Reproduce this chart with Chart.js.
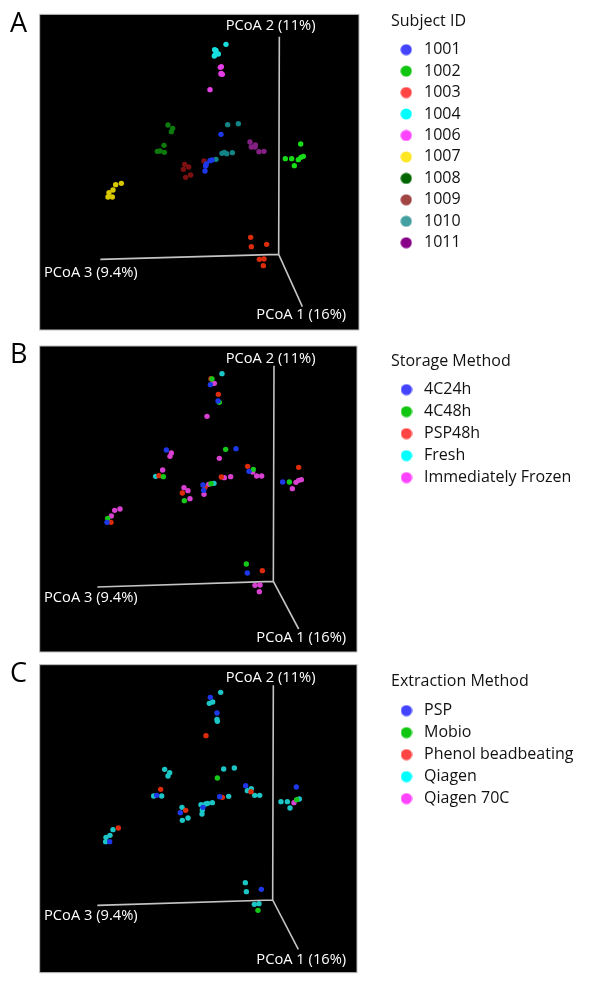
<!DOCTYPE html>
<html><head><meta charset="utf-8">
<script src="https://cdn.jsdelivr.net/npm/chart.js@4"></script>
<style>html,body{margin:0;padding:0;background:#fff}canvas{display:block}</style>
</head><body>
<canvas id="a" width="600" height="336"></canvas>
<canvas id="b" width="600" height="320"></canvas>
<canvas id="c" width="600" height="336"></canvas>
<script>
// Values (in units of the plot's own hidden scale)
const subjectNames=['1001','1002','1003','1004','1006','1007','1008','1009','1010','1011'];
const s1001=[[543,373],[510,452],[516,450],[499,462],[497,468],[495,483]];
const s1002=[[782,402],[736,446],[755,446],[790,439],[783,442],[775,449],[763,467]];
const s1003=[[632,682],[634,710],[680,703],[658,748],[672,747],[670,767]];
const s1004=[[558,103],[524,119],[528,121],[535,132],[526,133],[523,138]];
const s1006=[[544,170],[541,172],[544,190],[547,193],[543,192],[510,239]];
const s1007=[[244,520],[227,524],[219,540],[207,548],[204,561],[217,561]];
const s1008=[[384,345],[398,355],[394,365],[372,406],[352,424],[360,423],[373,427]];
const s1009=[[492,453],[434,463],[446,471],[430,478],[452,495],[437,502]];
const s1010=[[563,344],[595,341],[546,430],[553,427],[560,431],[577,428],[528,448]];
const s1011=[[630,396],[646,405],[634,411],[645,411],[657,425],[672,424]];
const subjectAxes=[[718,80],[716,733],[181,748],[716,733],[787,890]];

const storageNames=['4C24h','4C48h','PSP48h','Fresh','Immediately Frozen'];
const st4C24=[[511,119],[534,168],[379,315],[588,311],[627,379],[728,411],[489,420],[491,436],[201,532],[622,684]];
const st4C48=[[516,102],[538,172],[557,313],[370,395],[640,373],[748,411],[513,416],[433,467],[203,520],[619,657]];
const stPSP=[[513,101],[535,148],[357,392],[623,364],[776,367],[544,396],[495,427],[427,444],[213,532],[667,677]];
const stFresh=[[546,86],[347,394],[522,415]];
const stFrozen=[[518,115],[523,115],[501,214],[394,324],[390,334],[538,340],[368,375],[638,381],[650,393],[665,393],[572,395],[553,398],[784,404],[776,406],[768,412],[757,431],[506,418],[432,428],[444,437],[492,448],[450,461],[240,492],[224,496],[214,513],[645,721],[660,720],[658,740]];
const storageAxes=[[702,62],[700,709],[172,726],[700,709],[776,852]];

const extractionNames=['PSP','Mobio','Phenol beadbeating','Qiagen','Qiagen 70C'];
const exPSP=[[511,106],[531,153],[350,400],[617,371],[769,375],[539,404],[489,436],[421,452],[209,539],[664,682]];
const exMobio=[[532,348],[770,413],[654,745]];
const exPhenol=[[498,221],[362,382],[633,389],[547,406],[437,445],[235,498]];
const exQiagen=[[542,91],[518,120],[508,124],[531,172],[532,178],[551,321],[583,318],[374,322],[389,332],[384,342],[341,402],[365,402],[622,386],[634,380],[644,400],[659,400],[566,403],[723,419],[742,419],[778,411],[750,438],[517,422],[503,424],[497,426],[483,428],[487,444],[486,456],[426,436],[444,468],[427,475],[219,503],[210,520],[198,526],[197,539],[616,662],[619,689],[643,727],[657,725]];
const exQiagen70=[[762,422]];
const extractionAxes=[[700,70],[698,714],[172,730],[698,714],[775,862]];

const subjectLegendColors=['#4444ff','#11c611','#ff4444','#00ffff','#ff44ff','#ffe622','#006600','#a04444','#44a0a0','#880088'];
const subjectPointColors=['#1c38e8','#18dc18','#dc2c0c','#18e0e0','#e63ee6','#d8c800','#0e7a0e','#7c1010','#128486','#842084'];
const methodLegendColors=['#4444ff','#11c611','#ff4444','#00ffff','#ff44ff'];
const methodPointColors=['#1c38e8','#18c818','#dc2c0c','#1cc6c6','#d840d0'];

const FONT='"Open Sans"', FS=16;
function dot(color){const k=document.createElement('canvas');k.width=k.height=12;const g=k.getContext('2d');g.fillStyle=color;g.beginPath();g.arc(6,6,5.6,0,Math.PI*2);g.fill();return k;}

function frame(frameBox,labels,letter){return{id:'panel',
  afterLayout(ch){const l=ch.legend,o=ch.options.plugins.panelLegend;l.left=o.left;l.top=o.top;l.right=595;l.bottom=o.top+300;l.width=595-o.left;l.height=300;},
  beforeDatasetsDraw(ch){const {ctx,scales:{x,y}}=ch;const[x0,y0,x1,y1]=frameBox;
    ctx.save();ctx.fillStyle='#000';ctx.strokeStyle='#bdbdbd';ctx.lineWidth=1;
    const L=x.getPixelForValue(x0),T=y.getPixelForValue(y0),R=x.getPixelForValue(x1),B=y.getPixelForValue(y1);
    ctx.fillRect(L,T,R-L,B-T);ctx.strokeRect(L,T,R-L,B-T);ctx.restore();},
  afterDatasetsDraw(ch){const {ctx,scales:{x,y}}=ch;ctx.save();ctx.font=`14.7px ${FONT}`;ctx.fillStyle='#fff';ctx.textBaseline='middle';ctx.textAlign='left';
    labels.forEach(([t,a,b])=>ctx.fillText(t,x.getPixelForValue(a),y.getPixelForValue(b)));
    ctx.font=`27px ${FONT}`;ctx.fillStyle='#000';ctx.fillText(letter[0],x.getPixelForValue(letter[1]),y.getPixelForValue(letter[2]));ctx.restore();}
};}

function make(id,title,names,groups,ptColors,lgColors,axes,yr,legendTop,titleGap,pad,box,labels,letter){
  const ds=[{label:'axes',data:axes.map(([x,y])=>({x,y})),showLine:true,borderColor:'#c4c4c4',borderWidth:1.6,pointRadius:0,order:5}];
  groups.forEach((g,i)=>ds.push({label:names[i],data:g.map(([x,y])=>({x,y})),backgroundColor:ptColors[i],borderWidth:0,pointRadius:2.7,pointHoverRadius:2.7,order:1,pointStyle:'circle'}));
  new Chart(document.getElementById(id),{type:'scatter',data:{datasets:ds},plugins:[frame(box,labels,letter)],options:{
    responsive:false,animation:false,events:[],layout:{padding:0,autoPadding:false},
    scales:{x:{type:'linear',display:false,min:-120,max:1680},y:{type:'linear',display:false,reverse:true,min:yr[0],max:yr[1]}},
    plugins:{tooltip:{enabled:false},panelLegend:{left:391,top:legendTop},
      legend:{position:'chartArea',align:'start',
        title:{display:true,text:title,position:'start',color:'#111',font:{family:FONT,size:FS},padding:{top:0,bottom:titleGap}},
        labels:{color:'#111',font:{family:FONT,size:FS},usePointStyle:true,pointStyleWidth:25-pad,boxHeight:12,padding:pad,
          filter:it=>it.text!=='axes',
          generateLabels(ch){return ch.data.datasets.map((d,i)=>({text:d.label,datasetIndex:i,hidden:false,pointStyle:i>0?dot(lgColors[i-1]):'circle',fillStyle:'#000',strokeStyle:'rgba(0,0,0,0)',lineWidth:0}));}
        }}}
  }});
}

make('a','Subject ID',subjectNames,[s1001,s1002,s1003,s1004,s1006,s1007,s1008,s1009,s1010,s1011],subjectPointColors,subjectLegendColors,subjectAxes,[-30,978],13,4,5.45,[-1,13,957,960],
  [['PCoA 2 (11%)',557,47],['PCoA 3 (9.4%)',12,787],['PCoA 1 (16%)',649,915]],['A',-90,42]);
make('b','Storage Method',storageNames,[st4C24,st4C48,stPSP,stFresh,stFrozen],methodPointColors,methodLegendColors,storageAxes,[-27,933],17,3.4,6,[-1,3,951,921],
  [['PCoA 2 (11%)',557,40],['PCoA 3 (9.4%)',12,759],['PCoA 1 (16%)',649,878]],['B',-90,32]);
make('c','Extraction Method',extractionNames,[exPSP,exMobio,exPhenol,exQiagen,exQiagen70],methodPointColors,methodLegendColors,extractionAxes,[-18,990],17,4.4,6,[-1,8,951,932],
  [['PCoA 2 (11%)',557,47],['PCoA 3 (9.4%)',12,760],['PCoA 1 (16%)',649,894]],['C',-90,38]);
</script>
</body></html>
